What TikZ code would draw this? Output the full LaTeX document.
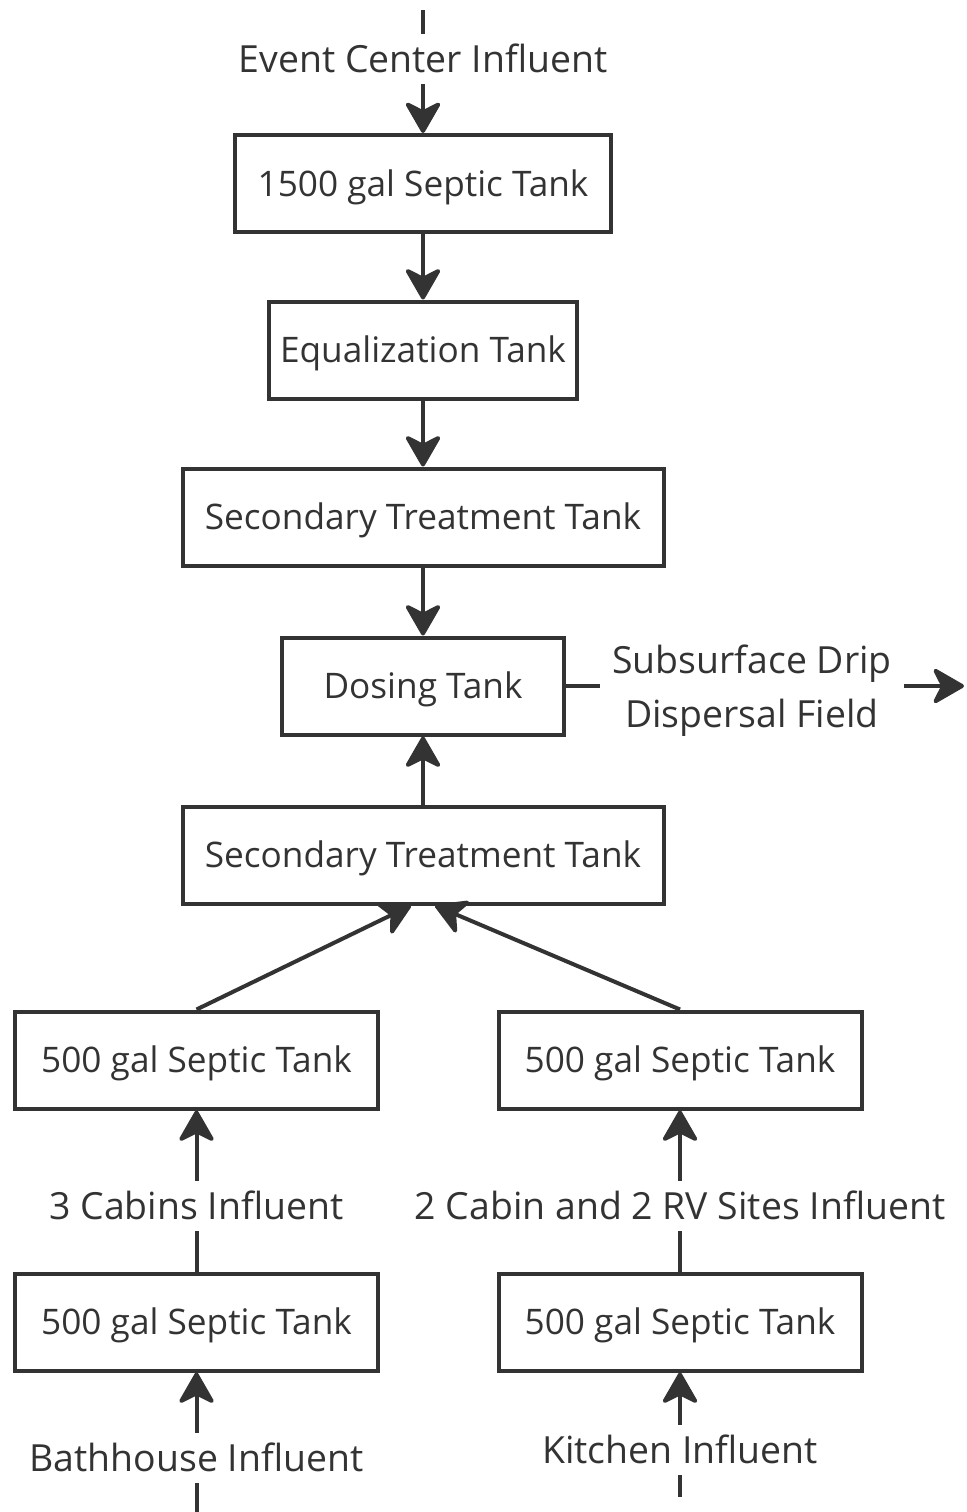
\documentclass[tikz,border=0pt]{standalone}
\usepackage{fontspec}
\setmainfont{Open Sans}
\usetikzlibrary{arrows.meta}

\definecolor{ink}{HTML}{333333}

\tikzset{
    tank/.style={draw=ink, line width=2pt, minimum height=48.5pt, inner sep=0pt,
        font=\fontsize{17.6}{21}\selectfont, text height=12.6pt, text depth=0pt},
    flow/.style={font=\fontsize{18.7}{27}\selectfont, text height=13.4pt, text depth=0pt,
        inner xsep=6pt, inner ysep=5.8pt},
}

\begin{document}
\begin{tikzpicture}[x=0.5pt, y=-0.5pt, text=ink]

    \useasboundingbox (0,0) rectangle (966,1512);

    \coordinate (evtin) at (423,10);
    \node[flow] (evt) at (423,59) {Event Center Influent};

    \node[tank, minimum width=188pt] (st1500) at (423,183.5) {1500 gal Septic Tank};
    \node[tank, minimum width=154pt] (eq) at (423,350) {Equalization Tank};
    \node[tank, minimum width=240.5pt] (sec1) at (423,517) {Secondary Treatment Tank};
    \node[tank, minimum width=141pt] (dose) at (423,686) {Dosing Tank};
    \node[tank, minimum width=240.5pt] (sec2) at (423,855) {Secondary Treatment Tank};

    \node[flow, text height=, align=center] (drip) at (752,686) {Subsurface Drip\\Dispersal Field};
    \coordinate (dripout) at (964,686);

    % left branch
    \node[tank, minimum width=181.5pt] (l1) at (196.5,1060) {500 gal Septic Tank};
    \node[flow] (cabins) at (196.5,1206) {3 Cabins Influent};
    \node[tank, minimum width=181.5pt] (l2) at (196.5,1322) {500 gal Septic Tank};
    \node[flow] (bath) at (196.5,1458) {Bathhouse Influent};
    \coordinate (bathin) at (196.5,1512);

    % right branch
    \node[tank, minimum width=181.5pt] (r1) at (680,1060) {500 gal Septic Tank};
    \node[flow] (rv) at (680,1206) {2 Cabin and 2 RV Sites Influent};
    \node[tank, minimum width=181.5pt] (r2) at (680,1322) {500 gal Septic Tank};
    \node[flow] (kitchen) at (680,1450) {Kitchen Influent};
    \coordinate (kitchenin) at (680,1497);

    \begin{scope}[>={Stealth[length=17.5pt, width=20pt, inset=5pt, round]}, color=ink, line width=2pt]
        \draw (evtin) -- (evt);
        \draw [->] (evt) -- (st1500);
        \draw [->] (st1500) -- (eq);
        \draw [->] (eq) -- (sec1);
        \draw [->] (sec1) -- (dose);
        \draw [->] (sec2) -- (dose);
        \draw (dose) -- (drip);
        \draw [->] (drip) -- (dripout);

        \draw [->] (l1.north) -- ([xshift=-6pt]sec2.south);
        \draw [->] (r1.north) -- ([xshift=6pt]sec2.south);

        \draw (l2) -- (cabins);
        \draw [->] (cabins) -- (l1);
        \draw (bathin) -- (bath);
        \draw [->] (bath) -- (l2);

        \draw (r2) -- (rv);
        \draw [->] (rv) -- (r1);
        \draw (kitchenin) -- (kitchen);
        \draw [->] (kitchen) -- (r2);
    \end{scope}

\end{tikzpicture}
\end{document}
